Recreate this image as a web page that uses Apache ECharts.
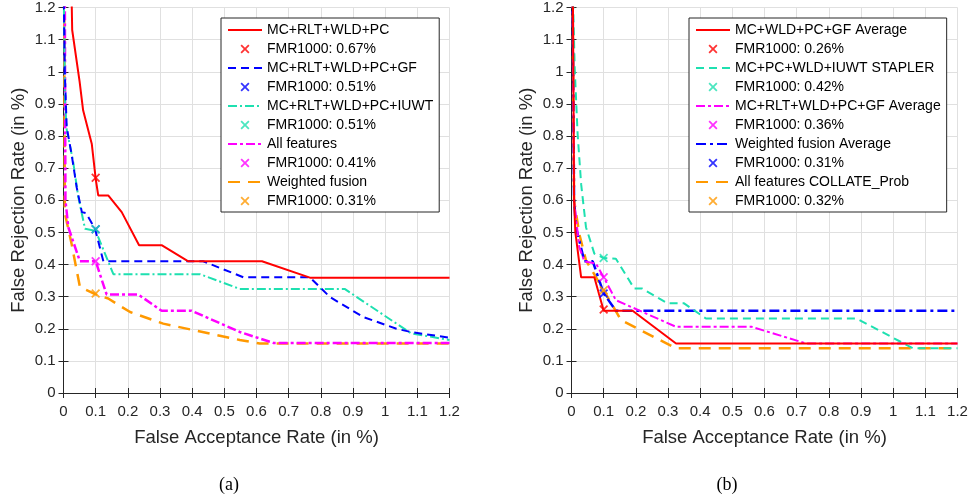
<!DOCTYPE html>
<html>
<head>
<meta charset="utf-8">
<script src="https://cdn.jsdelivr.net/npm/echarts@6/dist/echarts.min.js"></script>
<style>
html,body{margin:0;padding:0;background:#fff;}
#chart{width:972px;height:502px;}
</style>
</head>
<body>
<div id="chart"></div>
<script>
// ---------- axis settings ----------
const axisMin = 0;
const axisMax = 1.2;
const axisStep = 0.1;
const xAxisTitle = 'False Acceptance Rate (in %)';
const yAxisTitle = 'False Rejection Rate (in %)';
const panelLabels = ['(a)', '(b)'];

// ---------- panel (a) data: [FAR, FRR] ----------
const aRed = [[0.024,1.3],[0.027,1.13],[0.05,0.97],[0.061,0.88],[0.088,0.775],[0.1,0.667],[0.108,0.615],[0.139,0.615],[0.181,0.563],[0.235,0.46],[0.305,0.46],[0.388,0.41],[0.617,0.41],[0.766,0.359],[1.2,0.359]];
const aBlue = [[0.0,1.3],[0.004,1.0],[0.01,0.827],[0.025,0.744],[0.041,0.64],[0.057,0.563],[0.07,0.56],[0.098,0.511],[0.124,0.41],[0.434,0.41],[0.56,0.36],[0.766,0.36],[0.828,0.299],[0.931,0.237],[1.035,0.2],[1.08,0.19],[1.2,0.172]];
const aCyan = [[0.0,1.3],[0.005,0.9],[0.01,0.82],[0.03,0.72],[0.046,0.61],[0.067,0.511],[0.1,0.505],[0.155,0.37],[0.424,0.37],[0.548,0.324],[0.874,0.324],[1.08,0.186],[1.2,0.165]];
const aMagenta = [[0.004,1.3],[0.006,0.6],[0.015,0.516],[0.051,0.41],[0.1,0.41],[0.134,0.307],[0.232,0.307],[0.305,0.256],[0.398,0.256],[0.548,0.19],[0.652,0.156],[1.2,0.156]];
const aOrange = [[0.002,1.3],[0.004,0.56],[0.025,0.465],[0.051,0.33],[0.1,0.307],[0.139,0.294],[0.207,0.252],[0.31,0.216],[0.403,0.196],[0.548,0.165],[0.61,0.154],[1.2,0.154]];
const aLineNames = ['MC+RLT+WLD+PC','MC+RLT+WLD+PC+GF','MC+RLT+WLD+PC+IUWT','All features','Weighted fusion'];
const aFmrNames = ['FMR1000: 0.67%','FMR1000: 0.51%','FMR1000: 0.51%','FMR1000: 0.41%','FMR1000: 0.31%'];
const aFmrPoints = [[0.1,0.67],[0.1,0.51],[0.1,0.51],[0.1,0.41],[0.1,0.31]];

// ---------- panel (b) data: [FAR, FRR] ----------
const bRed = [[0.004,1.3],[0.008,0.6],[0.012,0.5],[0.03,0.36],[0.071,0.36],[0.1,0.256],[0.19,0.256],[0.325,0.154],[1.2,0.154]];
const bCyan = [[0.003,1.3],[0.01,1.01],[0.019,0.807],[0.03,0.65],[0.045,0.516],[0.071,0.434],[0.1,0.42],[0.138,0.418],[0.195,0.325],[0.22,0.325],[0.299,0.279],[0.35,0.279],[0.418,0.232],[0.886,0.232],[1.062,0.139],[1.2,0.139]];
const bMagenta = [[0.003,1.3],[0.008,0.6],[0.024,0.454],[0.04,0.41],[0.076,0.403],[0.1,0.36],[0.138,0.289],[0.325,0.206],[0.56,0.206],[0.73,0.154],[1.2,0.154]];
const bBlue = [[0.003,1.3],[0.008,0.6],[0.014,0.516],[0.04,0.41],[0.066,0.41],[0.1,0.31],[0.138,0.256],[1.2,0.256]];
const bOrange = [[0.003,1.3],[0.008,0.6],[0.024,0.496],[0.045,0.413],[0.1,0.32],[0.154,0.227],[0.325,0.139],[1.2,0.139]];
const bLineNames = ['MC+WLD+PC+GF Average','MC+PC+WLD+IUWT STAPLER','MC+RLT+WLD+PC+GF Average','Weighted fusion Average','All features COLLATE_Prob'];
const bFmrNames = ['FMR1000: 0.26%','FMR1000: 0.42%','FMR1000: 0.36%','FMR1000: 0.31%','FMR1000: 0.32%'];
const bFmrPoints = [[0.1,0.26],[0.1,0.42],[0.1,0.36],[0.1,0.31],[0.1,0.32]];

// ---------- styles ----------
const RED = '#ff0000', BLUE = '#0000ff', CYAN = '#1ee0b0', MAG = '#ff00ff', ORANGE = '#ff9900';
const aStyles = [
  {color: RED, width: 2, type: 'solid'},
  {color: BLUE, width: 2, type: [8,5]},
  {color: CYAN, width: 2, type: [9,3,2,3]},
  {color: MAG, width: 2.5, type: [9,3,3,3]},
  {color: ORANGE, width: 2.5, type: [12,8]}
];
const bStyles = [
  {color: RED, width: 2, type: 'solid'},
  {color: CYAN, width: 2, type: [8,5]},
  {color: MAG, width: 2, type: [9,3,3,3]},
  {color: BLUE, width: 2.5, type: [10,4,3,4]},
  {color: ORANGE, width: 2.5, type: [12,8]}
];
const X_MARK = 'path://M0,1.4 L1.4,0 L5,3.6 L8.6,0 L10,1.4 L6.4,5 L10,8.6 L8.6,10 L5,6.4 L1.4,10 L0,8.6 L3.6,5 Z';
const NO_MARK = 'path://M0,0 L10,10';

const FONT = 'Liberation Sans, Arial, Helvetica, sans-serif';
const AX = '#262626';
const GRID_W = 386, GRID_H = 386, GRID_TOP = 7;
const grids = [{left: 63.5, top: GRID_TOP, width: GRID_W, height: GRID_H}, {left: 571.5, top: GRID_TOP, width: GRID_W, height: GRID_H}];

function makeAxes(dim, gi) {
  const main = {
    type: 'value', gridIndex: gi, min: axisMin, max: axisMax, interval: axisStep,
    position: dim === 'x' ? 'bottom' : 'left',
    name: dim === 'x' ? xAxisTitle : yAxisTitle,
    nameLocation: 'middle',
    nameGap: dim === 'x' ? 35 : 35,
    nameTextStyle: {fontFamily: FONT, fontSize: 18.5, color: AX},
    axisLine: {show: true, lineStyle: {color: AX, width: 1}},
    axisTick: {show: true, inside: true, length: 5, lineStyle: {color: AX}},
    axisLabel: {fontFamily: FONT, fontSize: 15, color: AX, margin: dim === 'x' ? 11 : 8},
    splitLine: {show: true, lineStyle: {color: '#e0e0e0', width: 1}}
  };
  const opp = {
    type: 'value', gridIndex: gi, min: axisMin, max: axisMax, interval: axisStep,
    position: dim === 'x' ? 'top' : 'right',
    axisLine: {show: true, lineStyle: {color: AX, width: 1}},
    axisTick: {show: true, inside: true, length: 5, lineStyle: {color: AX}},
    axisLabel: {show: false},
    splitLine: {show: false}
  };
  return [main, opp];
}

const xAxes = [...makeAxes('x', 0), ...makeAxes('x', 1)];
const yAxes = [...makeAxes('y', 0), ...makeAxes('y', 1)];

function buildPanel(lines, lineNames, fmrNames, fmrPoints, styles, axisIdx, tag) {
  const series = [];
  const legendData = [];
  lines.forEach((data, i) => {
    const st = styles[i];
    const ln = lineNames[i] + '|' + tag + i;
    const fn = fmrNames[i] + '|' + tag + 'f' + i;
    series.push({
      type: 'line', name: ln, data: data, xAxisIndex: axisIdx, yAxisIndex: axisIdx,
      symbol: NO_MARK, showSymbol: false, clip: true, silent: true, z: 2 + (lines.length - i),
      lineStyle: {color: st.color, width: st.width, type: st.type},
      itemStyle: {color: 'rgba(0,0,0,0)', borderWidth: 0}
    });
    series.push({
      type: 'scatter', name: fn, data: [fmrPoints[i]], xAxisIndex: axisIdx, yAxisIndex: axisIdx,
      symbol: X_MARK, symbolSize: 9, silent: true, z: 10,
      itemStyle: {color: st.color}
    });
    legendData.push(ln, fn);
  });
  return {series, legendData};
}

const pA = buildPanel([aRed, aBlue, aCyan, aMagenta, aOrange], aLineNames, aFmrNames, aFmrPoints, aStyles, 0, 'a');
const pB = buildPanel([bRed, bCyan, bMagenta, bBlue, bOrange], bLineNames, bFmrNames, bFmrPoints, bStyles, 2, 'b');

function legendCfg(left, data) {
  return {
    orient: 'vertical', left: left, top: 18, data: data,
    itemWidth: 34, itemHeight: 9, itemGap: 5,
    padding: [5, 6, 4, 6],
    borderColor: AX, borderWidth: 1, backgroundColor: '#ffffff',
    textStyle: {fontFamily: FONT, fontSize: 14, color: '#000'},
    lineStyle: {width: 2},
    formatter: (name) => name.split('|')[0],
    selectedMode: false
  };
}

const chart = echarts.init(document.getElementById('chart'), null, {renderer: 'canvas'});
chart.setOption({
  animation: false,
  backgroundColor: '#ffffff',
  grid: grids,
  xAxis: xAxes,
  yAxis: yAxes,
  legend: [legendCfg(221, pA.legendData), legendCfg(689, pB.legendData)],
  graphic: [
    {type: 'text', x: 229, y: 485, style: {text: panelLabels[0], font: '18px "Liberation Serif", "Times New Roman", serif', fill: '#000', align: 'center', verticalAlign: 'middle'}},
    {type: 'text', x: 727, y: 485, style: {text: panelLabels[1], font: '18px "Liberation Serif", "Times New Roman", serif', fill: '#000', align: 'center', verticalAlign: 'middle'}}
  ],
  series: [...pA.series, ...pB.series]
});
</script>
</body>
</html>
